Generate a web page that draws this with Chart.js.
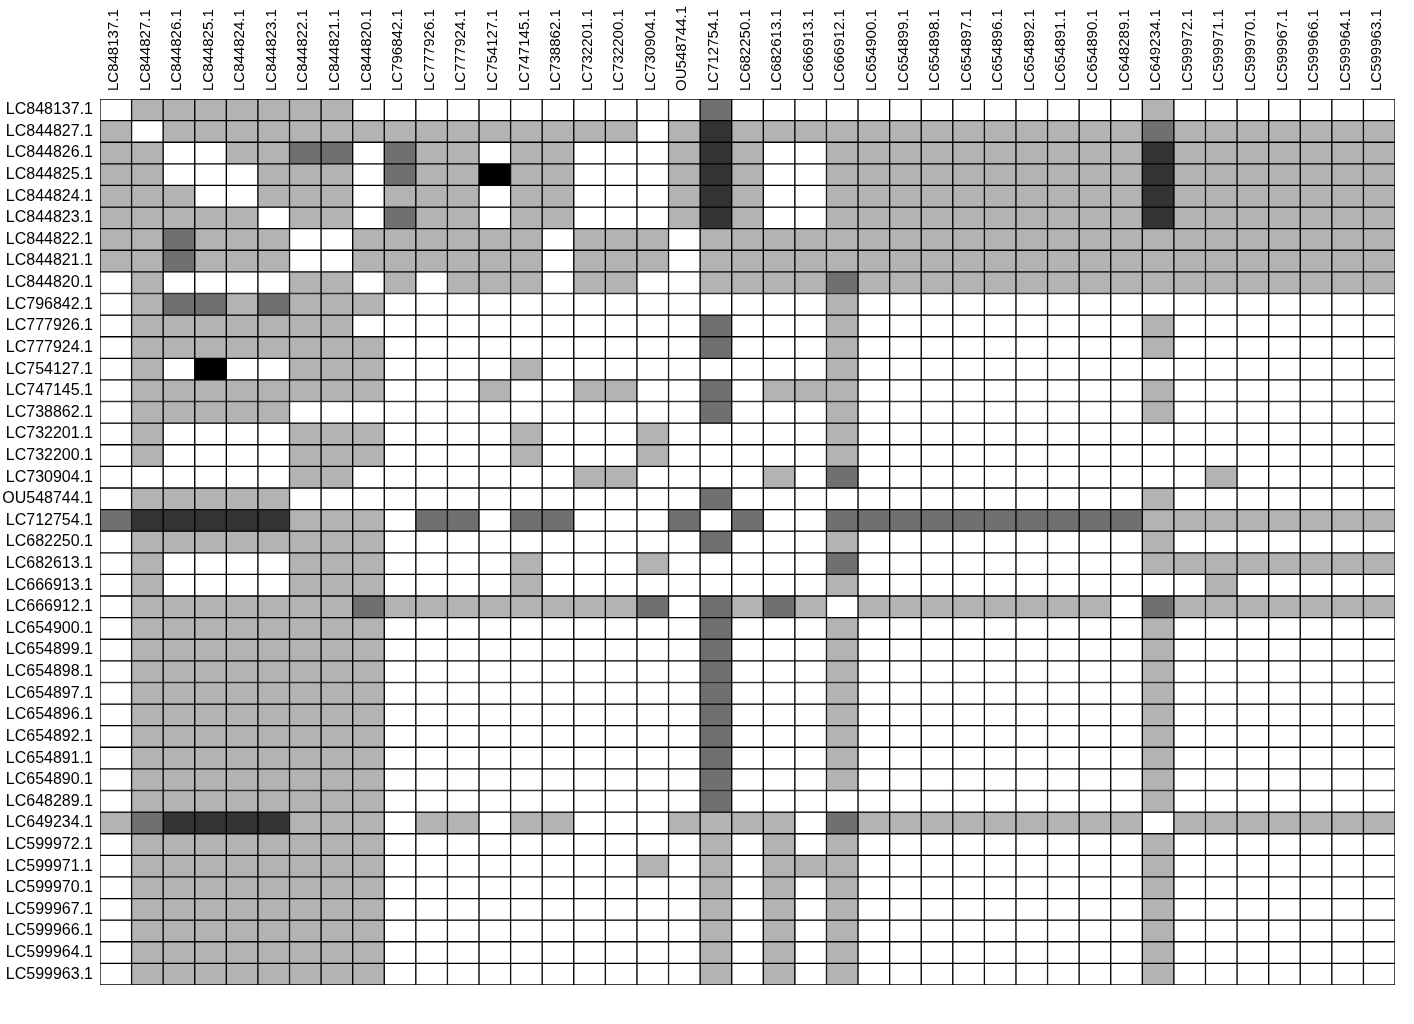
<!DOCTYPE html>
<html>
<head>
<meta charset="utf-8">
<title>Accession heatmap</title>
<script src="https://cdn.jsdelivr.net/npm/chart.js@4.4.1/dist/chart.umd.min.js"></script>
<style>
  body { margin: 0; background: #fff; }
  #wrap { width: 1414px; height: 1024px; }
</style>
</head>
<body>
<div id="wrap"><canvas id="heatmap" width="1414" height="1024"></canvas></div>
<script>
// Accessions, used for both rows and columns
const accessions = [
  'LC848137.1', 'LC844827.1', 'LC844826.1', 'LC844825.1', 'LC844824.1', 'LC844823.1',
  'LC844822.1', 'LC844821.1', 'LC844820.1', 'LC796842.1', 'LC777926.1', 'LC777924.1',
  'LC754127.1', 'LC747145.1', 'LC738862.1', 'LC732201.1', 'LC732200.1', 'LC730904.1',
  'OU548744.1', 'LC712754.1', 'LC682250.1', 'LC682613.1', 'LC666913.1', 'LC666912.1',
  'LC654900.1', 'LC654899.1', 'LC654898.1', 'LC654897.1', 'LC654896.1', 'LC654892.1',
  'LC654891.1', 'LC654890.1', 'LC648289.1', 'LC649234.1', 'LC599972.1', 'LC599971.1',
  'LC599970.1', 'LC599967.1', 'LC599966.1', 'LC599964.1', 'LC599963.1',
];

// Shade level per cell (0 = white ... 4 = black), one row per accession
const levels = [
  [0,1,1,1,1,1,1,1,0,0,0,0,0,0,0,0,0,0,0,2,0,0,0,0,0,0,0,0,0,0,0,0,0,1,0,0,0,0,0,0,0],
  [1,0,1,1,1,1,1,1,1,1,1,1,1,1,1,1,1,0,1,3,1,1,1,1,1,1,1,1,1,1,1,1,1,2,1,1,1,1,1,1,1],
  [1,1,0,0,1,1,2,2,0,2,1,1,0,1,1,0,0,0,1,3,1,0,0,1,1,1,1,1,1,1,1,1,1,3,1,1,1,1,1,1,1],
  [1,1,0,0,0,1,1,1,0,2,1,1,4,1,1,0,0,0,1,3,1,0,0,1,1,1,1,1,1,1,1,1,1,3,1,1,1,1,1,1,1],
  [1,1,1,0,0,1,1,1,0,1,1,1,0,1,1,0,0,0,1,3,1,0,0,1,1,1,1,1,1,1,1,1,1,3,1,1,1,1,1,1,1],
  [1,1,1,1,1,0,1,1,0,2,1,1,0,1,1,0,0,0,1,3,1,0,0,1,1,1,1,1,1,1,1,1,1,3,1,1,1,1,1,1,1],
  [1,1,2,1,1,1,0,0,1,1,1,1,1,1,0,1,1,1,0,1,1,1,1,1,1,1,1,1,1,1,1,1,1,1,1,1,1,1,1,1,1],
  [1,1,2,1,1,1,0,0,1,1,1,1,1,1,0,1,1,1,0,1,1,1,1,1,1,1,1,1,1,1,1,1,1,1,1,1,1,1,1,1,1],
  [0,1,0,0,0,0,1,1,0,1,0,1,1,1,0,1,1,0,0,1,1,1,1,2,1,1,1,1,1,1,1,1,1,1,1,1,1,1,1,1,1],
  [0,1,2,2,1,2,1,1,1,0,0,0,0,0,0,0,0,0,0,0,0,0,0,1,0,0,0,0,0,0,0,0,0,0,0,0,0,0,0,0,0],
  [0,1,1,1,1,1,1,1,0,0,0,0,0,0,0,0,0,0,0,2,0,0,0,1,0,0,0,0,0,0,0,0,0,1,0,0,0,0,0,0,0],
  [0,1,1,1,1,1,1,1,1,0,0,0,0,0,0,0,0,0,0,2,0,0,0,1,0,0,0,0,0,0,0,0,0,1,0,0,0,0,0,0,0],
  [0,1,0,4,0,0,1,1,1,0,0,0,0,1,0,0,0,0,0,0,0,0,0,1,0,0,0,0,0,0,0,0,0,0,0,0,0,0,0,0,0],
  [0,1,1,1,1,1,1,1,1,0,0,0,1,0,0,1,1,0,0,2,0,1,1,1,0,0,0,0,0,0,0,0,0,1,0,0,0,0,0,0,0],
  [0,1,1,1,1,1,0,0,0,0,0,0,0,0,0,0,0,0,0,2,0,0,0,1,0,0,0,0,0,0,0,0,0,1,0,0,0,0,0,0,0],
  [0,1,0,0,0,0,1,1,1,0,0,0,0,1,0,0,0,1,0,0,0,0,0,1,0,0,0,0,0,0,0,0,0,0,0,0,0,0,0,0,0],
  [0,1,0,0,0,0,1,1,1,0,0,0,0,1,0,0,0,1,0,0,0,0,0,1,0,0,0,0,0,0,0,0,0,0,0,0,0,0,0,0,0],
  [0,0,0,0,0,0,1,1,0,0,0,0,0,0,0,1,1,0,0,0,0,1,0,2,0,0,0,0,0,0,0,0,0,0,0,1,0,0,0,0,0],
  [0,1,1,1,1,1,0,0,0,0,0,0,0,0,0,0,0,0,0,2,0,0,0,0,0,0,0,0,0,0,0,0,0,1,0,0,0,0,0,0,0],
  [2,3,3,3,3,3,1,1,1,0,2,2,0,2,2,0,0,0,2,0,2,0,0,2,2,2,2,2,2,2,2,2,2,1,1,1,1,1,1,1,1],
  [0,1,1,1,1,1,1,1,1,0,0,0,0,0,0,0,0,0,0,2,0,0,0,1,0,0,0,0,0,0,0,0,0,1,0,0,0,0,0,0,0],
  [0,1,0,0,0,0,1,1,1,0,0,0,0,1,0,0,0,1,0,0,0,0,0,2,0,0,0,0,0,0,0,0,0,1,1,1,1,1,1,1,1],
  [0,1,0,0,0,0,1,1,1,0,0,0,0,1,0,0,0,0,0,0,0,0,0,1,0,0,0,0,0,0,0,0,0,0,0,1,0,0,0,0,0],
  [0,1,1,1,1,1,1,1,2,1,1,1,1,1,1,1,1,2,0,2,1,2,1,0,1,1,1,1,1,1,1,1,0,2,1,1,1,1,1,1,1],
  [0,1,1,1,1,1,1,1,1,0,0,0,0,0,0,0,0,0,0,2,0,0,0,1,0,0,0,0,0,0,0,0,0,1,0,0,0,0,0,0,0],
  [0,1,1,1,1,1,1,1,1,0,0,0,0,0,0,0,0,0,0,2,0,0,0,1,0,0,0,0,0,0,0,0,0,1,0,0,0,0,0,0,0],
  [0,1,1,1,1,1,1,1,1,0,0,0,0,0,0,0,0,0,0,2,0,0,0,1,0,0,0,0,0,0,0,0,0,1,0,0,0,0,0,0,0],
  [0,1,1,1,1,1,1,1,1,0,0,0,0,0,0,0,0,0,0,2,0,0,0,1,0,0,0,0,0,0,0,0,0,1,0,0,0,0,0,0,0],
  [0,1,1,1,1,1,1,1,1,0,0,0,0,0,0,0,0,0,0,2,0,0,0,1,0,0,0,0,0,0,0,0,0,1,0,0,0,0,0,0,0],
  [0,1,1,1,1,1,1,1,1,0,0,0,0,0,0,0,0,0,0,2,0,0,0,1,0,0,0,0,0,0,0,0,0,1,0,0,0,0,0,0,0],
  [0,1,1,1,1,1,1,1,1,0,0,0,0,0,0,0,0,0,0,2,0,0,0,1,0,0,0,0,0,0,0,0,0,1,0,0,0,0,0,0,0],
  [0,1,1,1,1,1,1,1,1,0,0,0,0,0,0,0,0,0,0,2,0,0,0,1,0,0,0,0,0,0,0,0,0,1,0,0,0,0,0,0,0],
  [0,1,1,1,1,1,1,1,1,0,0,0,0,0,0,0,0,0,0,2,0,0,0,0,0,0,0,0,0,0,0,0,0,1,0,0,0,0,0,0,0],
  [1,2,3,3,3,3,1,1,1,0,1,1,0,1,1,0,0,0,1,1,1,1,0,2,1,1,1,1,1,1,1,1,1,0,1,1,1,1,1,1,1],
  [0,1,1,1,1,1,1,1,1,0,0,0,0,0,0,0,0,0,0,1,0,1,0,1,0,0,0,0,0,0,0,0,0,1,0,0,0,0,0,0,0],
  [0,1,1,1,1,1,1,1,1,0,0,0,0,0,0,0,0,1,0,1,0,1,1,1,0,0,0,0,0,0,0,0,0,1,0,0,0,0,0,0,0],
  [0,1,1,1,1,1,1,1,1,0,0,0,0,0,0,0,0,0,0,1,0,1,0,1,0,0,0,0,0,0,0,0,0,1,0,0,0,0,0,0,0],
  [0,1,1,1,1,1,1,1,1,0,0,0,0,0,0,0,0,0,0,1,0,1,0,1,0,0,0,0,0,0,0,0,0,1,0,0,0,0,0,0,0],
  [0,1,1,1,1,1,1,1,1,0,0,0,0,0,0,0,0,0,0,1,0,1,0,1,0,0,0,0,0,0,0,0,0,1,0,0,0,0,0,0,0],
  [0,1,1,1,1,1,1,1,1,0,0,0,0,0,0,0,0,0,0,1,0,1,0,1,0,0,0,0,0,0,0,0,0,1,0,0,0,0,0,0,0],
  [0,1,1,1,1,1,1,1,1,0,0,0,0,0,0,0,0,0,0,1,0,1,0,1,0,0,0,0,0,0,0,0,0,1,0,0,0,0,0,0,0],
];

const shades = ['#ffffff', '#b3b3b3', '#707070', '#333333', '#000000'];
const fontFamily = "'Liberation Sans', Arial, sans-serif";

// One stacked dataset per row, every column gets a unit-high cell
const rowSets = [];
for (const [r, row] of levels.entries()) {
  rowSets.push({
    label: accessions[r],
    data: row.map(() => 1),
    backgroundColor: row.map((v) => shades[v]),
    borderColor: '#000000',
    borderWidth: 1,
    borderSkipped: false,
    categoryPercentage: 1,
    barPercentage: 1,
  });
}

// eslint-disable-next-line no-undef, no-unused-vars
const chart = new Chart(document.getElementById('heatmap'), {
  type: 'bar',
  data: {
    labels: accessions,
    datasets: rowSets,
  },
  options: {
    responsive: false,
    animation: false,
    devicePixelRatio: 1,
    layout: {
      padding: { left: 0, top: 0, right: 19, bottom: 39 },
    },
    plugins: {
      legend: { display: false },
      tooltip: { enabled: false },
    },
    scales: {
      x: {
        position: 'top',
        stacked: true,
        grid: { display: false, drawTicks: false },
        border: { display: false },
        // scale box reaches the canvas top so labels are not clipped
        afterFit: (scale) => { scale.height = 99; },
        ticks: {
          autoSkip: false,
          minRotation: 90,
          maxRotation: 90,
          padding: 8,
          labelOffset: 16,
          color: '#000000',
          font: { family: fontFamily, size: 15 },
        },
      },
      y: {
        type: 'linear',
        stacked: true,
        reverse: true,
        min: 0,
        max: accessions.length,
        grid: { display: false, drawTicks: false },
        border: { display: false },
        afterFit: (scale) => { scale.width = 100; },
        afterBuildTicks: (scale) => {
          scale.ticks = accessions.map((_, i) => ({ value: i + 0.5 }));
        },
        ticks: {
          autoSkip: false,
          padding: 7,
          color: '#000000',
          font: { family: fontFamily, size: 16 },
          callback: (value, index) => accessions[index],
        },
      },
    },
  },
});
</script>
</body>
</html>
